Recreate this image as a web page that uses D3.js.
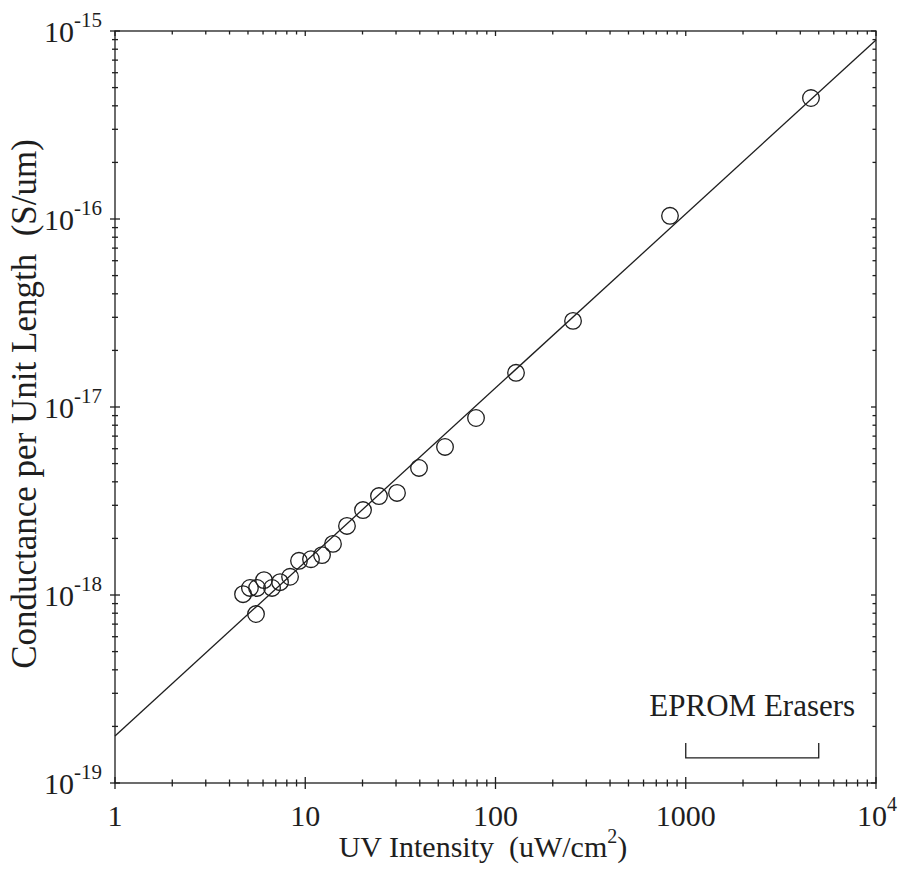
<!DOCTYPE html>
<html>
<head>
<meta charset="utf-8">
<script src="https://cdn.jsdelivr.net/npm/d3@7"></script>
<style>
  body { margin: 0; background: #fff; }
  text { font-family: "Liberation Serif", "Times New Roman", serif; fill: #1e1e1e; white-space: pre; }
</style>
</head>
<body>
<svg id="chart" width="899" height="876"></svg>
<script>
// Measured photoconductance versus UV intensity
const intensity = [4.71, 5.12, 5.58, 6.07, 6.69, 7.37, 8.32, 9.27, 10.72, 12.25, 13.99, 16.57, 5.51,
                   20.12, 24.41, 30.36, 39.62, 54.28, 78.99, 128.2, 255.6, 826.4, 4552];
const conductance = [1.01e-18, 1.09e-18, 1.09e-18, 1.20e-18, 1.09e-18, 1.17e-18, 1.25e-18, 1.52e-18, 1.55e-18,
                     1.63e-18, 1.87e-18, 2.33e-18, 7.92e-19, 2.83e-18, 3.36e-18, 3.49e-18, 4.74e-18, 6.13e-18,
                     8.74e-18, 1.52e-17, 2.87e-17, 1.04e-16, 4.40e-16];

// Power-law fit  G = fitCoef * I^fitExp
const fitCoef = 1.78e-19;
const fitExp = 0.9255;
const fitRange = [1, 1e4];

// Typical EPROM eraser intensity range
const eraserRange = [1000, 5000];
const eraserLevel = 1.36e-19;
const eraserLabel = "EPROM Erasers";

// Axis tick labels: [base text, superscript]
const xTickValues = [1, 10, 100, 1000, 10000];
const xTickLabels = [["1", ""], ["10", ""], ["100", ""], ["1000", ""], ["10", "4"]];
const yTickValues = [1e-15, 1e-16, 1e-17, 1e-18, 1e-19];
const yTickLabels = [["10", "-15"], ["10", "-16"], ["10", "-17"], ["10", "-18"], ["10", "-19"]];

const xTitle = ["UV Intensity  (uW/cm", "2", ")"];
const yTitle = "Conductance per Unit Length  (S/um)";

const svg = d3.select("#chart");
const plotL = 115, plotR = 876, plotT = 31, plotB = 783;
const ink = "#1e1e1e";

const x = d3.scaleLog().domain([1, 1e4]).range([plotL, plotR]);
const y = d3.scaleLog().domain([1e-19, 1e-15]).range([plotB, plotT]);

// minor tick values (2..9 per decade)
function minorTicks(lo, hi) {
  const out = [];
  for (let e = lo; e < hi; e++) for (let m = 2; m <= 9; m++) out.push(m * Math.pow(10, e));
  return out;
}
const xMinor = minorTicks(0, 4);
const yMinor = minorTicks(-19, -15);

const g = svg.append("g").attr("stroke", ink).attr("stroke-width", 1.3).attr("fill", "none");

// frame
g.append("rect").attr("x", plotL).attr("y", plotT).attr("width", plotR - plotL).attr("height", plotB - plotT);

// bottom axis ticks (crossing the axis)
xTickValues.forEach(v => g.append("line").attr("x1", x(v)).attr("x2", x(v)).attr("y1", plotB - 6).attr("y2", plotB + 6));
xMinor.forEach(v => g.append("line").attr("x1", x(v)).attr("x2", x(v)).attr("y1", plotB - 3.5).attr("y2", plotB + 3.5));
// top axis ticks (inward)
xTickValues.forEach(v => g.append("line").attr("x1", x(v)).attr("x2", x(v)).attr("y1", plotT).attr("y2", plotT + 5));
xMinor.forEach(v => g.append("line").attr("x1", x(v)).attr("x2", x(v)).attr("y1", plotT).attr("y2", plotT + 3.5));
// left axis ticks (crossing)
yTickValues.forEach(v => g.append("line").attr("y1", y(v)).attr("y2", y(v)).attr("x1", plotL - 5).attr("x2", plotL + 5));
yMinor.forEach(v => g.append("line").attr("y1", y(v)).attr("y2", y(v)).attr("x1", plotL - 3).attr("x2", plotL + 3));
// right axis ticks (inward)
yTickValues.forEach(v => g.append("line").attr("y1", y(v)).attr("y2", y(v)).attr("x1", plotR - 5).attr("x2", plotR));
yMinor.forEach(v => g.append("line").attr("y1", y(v)).attr("y2", y(v)).attr("x1", plotR - 3.5).attr("x2", plotR));

// x tick labels
xTickValues.forEach((v, i) => {
  const sup = xTickLabels[i][1] !== "";
  const t = svg.append("text").attr("x", sup ? x(v) - 19 : x(v)).attr("y", 826)
    .attr("text-anchor", sup ? "start" : "middle").attr("font-size", 30);
  t.append("tspan").text(xTickLabels[i][0]);
  if (sup) t.append("tspan").attr("font-size", 20).attr("dy", -15).text(xTickLabels[i][1]);
});

// y tick labels
yTickValues.forEach((v, i) => {
  const t = svg.append("text").attr("x", 102).attr("y", y(v) + 11).attr("text-anchor", "end")
    .attr("font-size", 30);
  t.append("tspan").text(yTickLabels[i][0]);
  t.append("tspan").attr("font-size", 21).attr("dy", -15).text(yTickLabels[i][1]);
});

// axis titles
const xt = svg.append("text").attr("x", 483).attr("y", 857).attr("text-anchor", "middle").attr("font-size", 30);
xt.append("tspan").text(xTitle[0]);
xt.append("tspan").attr("font-size", 20).attr("dy", -14).text(xTitle[1]);
xt.append("tspan").attr("dy", 14).text(xTitle[2]);

svg.append("text").attr("transform", `translate(36,${(plotT + plotB) / 2 - 3}) rotate(-90)`)
  .attr("text-anchor", "middle").attr("font-size", 35).text(yTitle);

// fit line
const fitLine = d3.line().x(d => x(d)).y(d => y(fitCoef * Math.pow(d, fitExp)));
g.append("path").attr("d", fitLine(fitRange));

// data points
g.selectAll("circle.pt").data(intensity).join("circle").attr("class", "pt")
  .attr("cx", d => x(d)).attr("cy", (d, i) => y(conductance[i])).attr("r", 8.3);

// eraser range bracket
const by = y(eraserLevel);
g.append("path").attr("d",
  `M${x(eraserRange[0])},${by - 15}V${by}H${x(eraserRange[1])}V${by - 15}`);
svg.append("text").attr("x", (x(eraserRange[0]) + x(eraserRange[1])) / 2).attr("y", 716)
  .attr("text-anchor", "middle").attr("font-size", 31).text(eraserLabel);
</script>
</body>
</html>
